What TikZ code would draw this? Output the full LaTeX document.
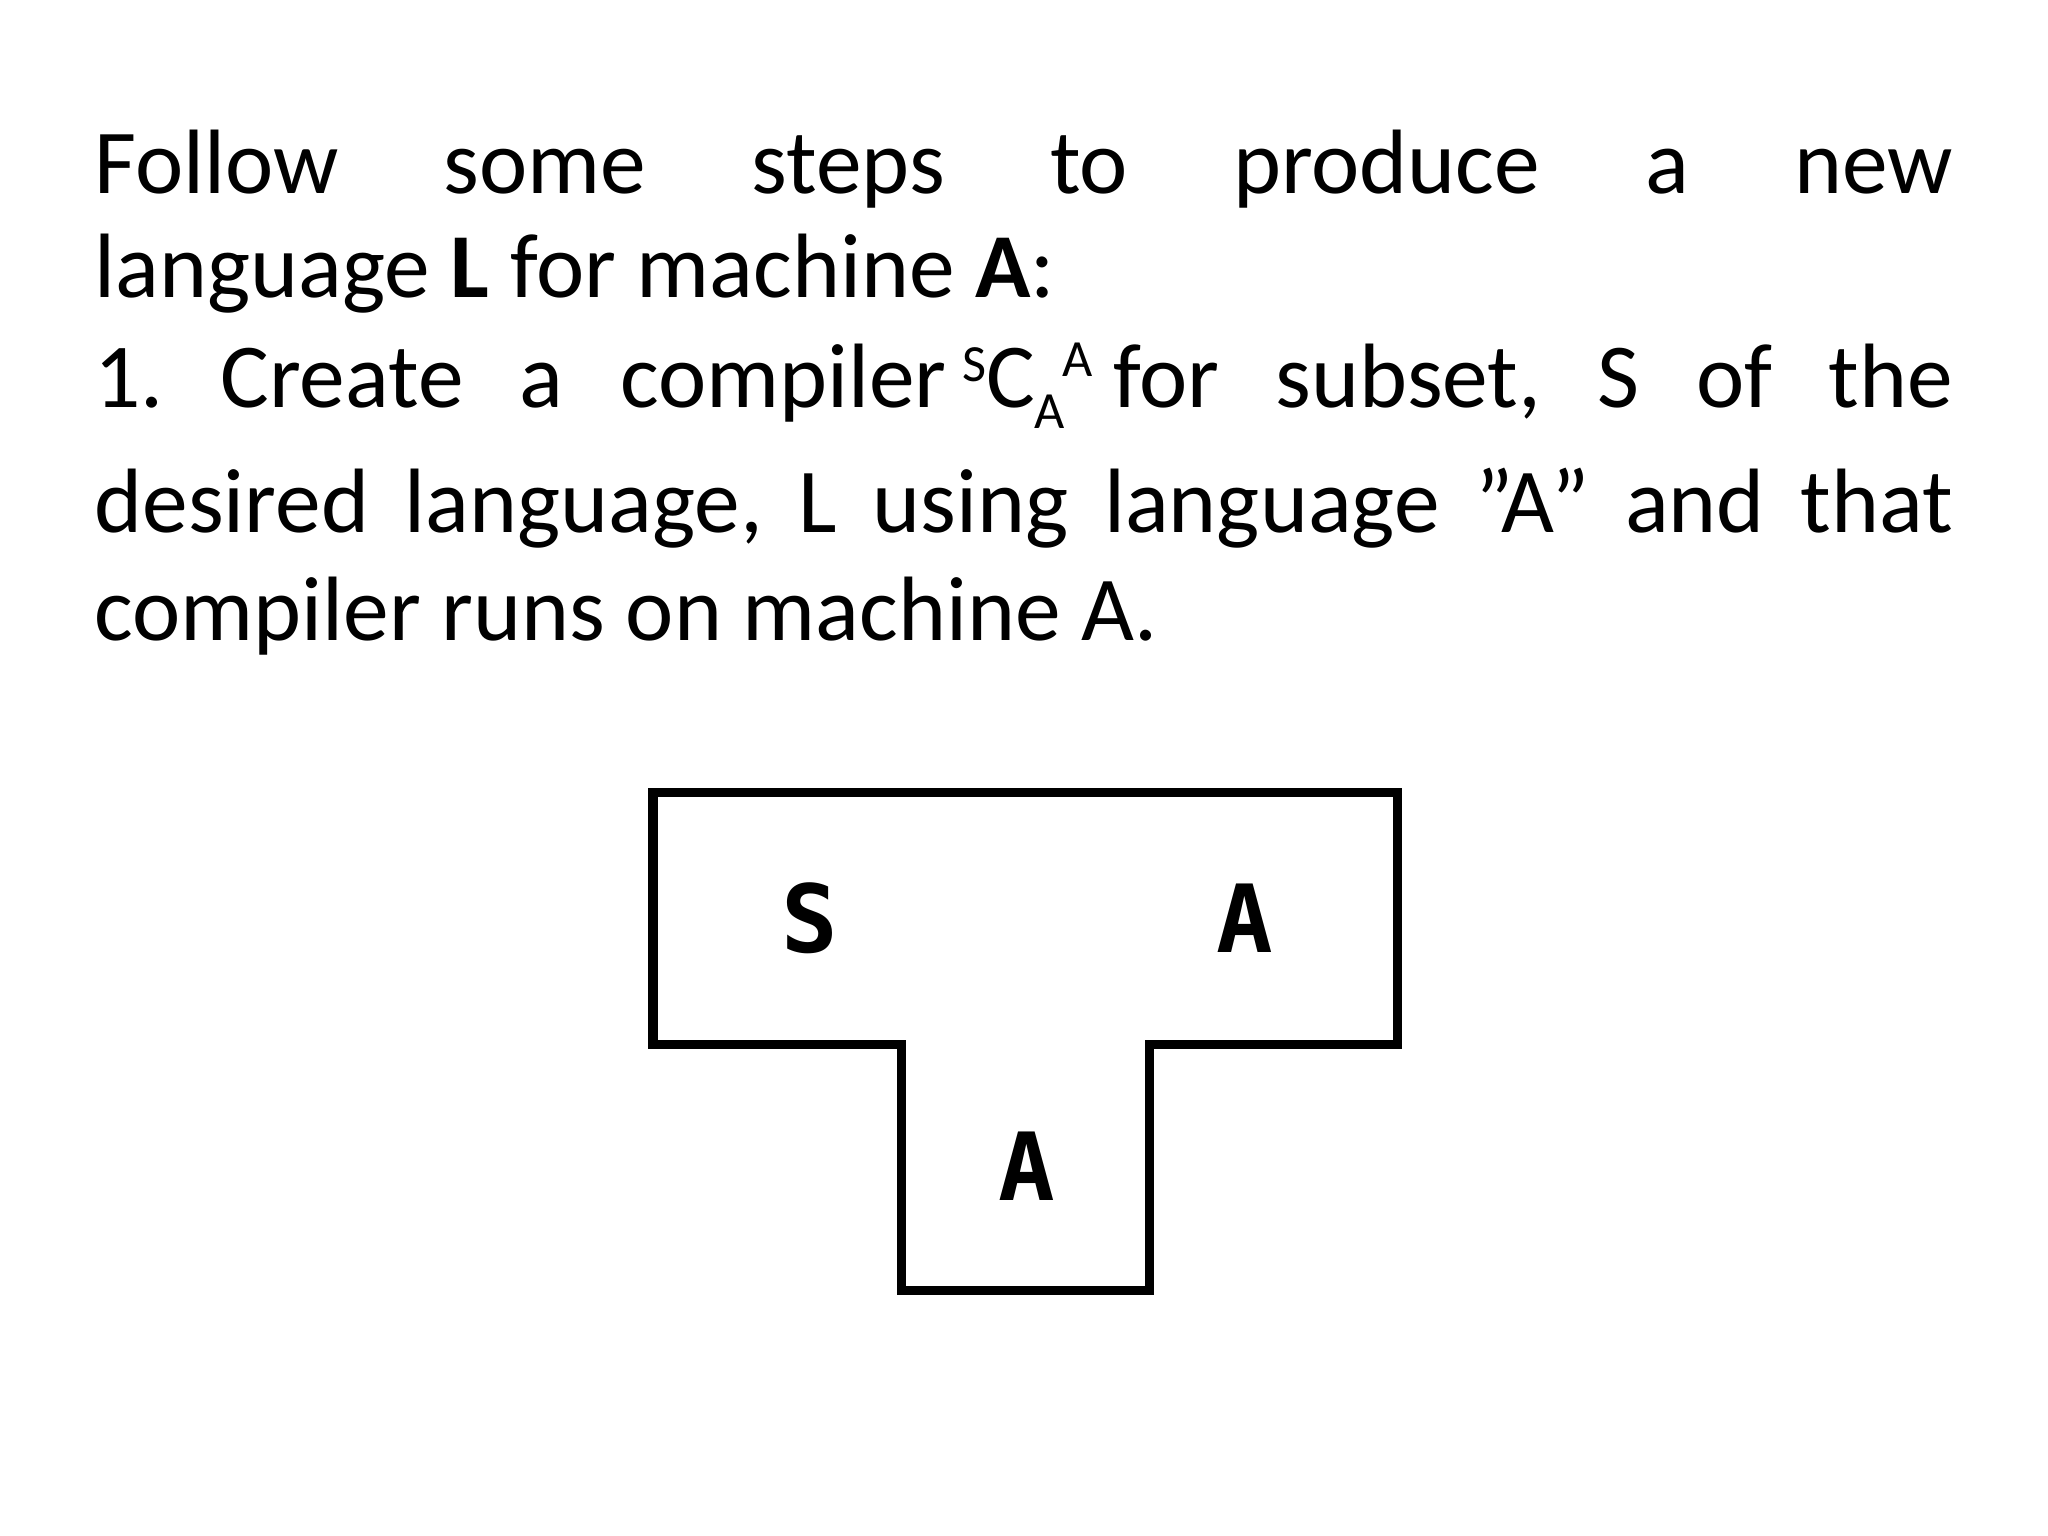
\documentclass[tikz,border=0pt]{standalone}
\usepackage{fontspec}
\setmainfont{Carlito}
\newfontfamily\pixfont{DejaVu Sans Mono}
\begin{document}
\begin{tikzpicture}[x=0.5pt,y=-0.5pt,
  txt/.style={anchor=base west,inner sep=0pt,font=\fontsize{35}{42}\selectfont},
  lbl/.style={inner sep=0pt,font=\pixfont\bfseries\fontsize{36}{40}\selectfont}]
\useasboundingbox (0,0) rectangle (1568,1176);
\def\W{711.5pt}
\node[txt] (l1) at (72,148) {\hbox to \W{Follow\hfill some\hfill steps\hfill to\hfill produce\hfill a\hfill new}};
\node[txt] (l2) at (72,228) {language \textbf{L} for machine \textbf{A}:};
\node[txt] (l3) at (72,312) {\hbox to \W{1.\hfill Create\hfill a\hfill compiler\,{\fontsize{20}{22}\selectfont\raisebox{10pt}{S}}C{\fontsize{20}{22}\selectfont\raisebox{-8pt}{A}\kern-1pt\raisebox{12pt}{A}}\ for\hfill subset,\hfill S\hfill of\hfill the}};
\node[txt] (l4) at (72,408) {\hbox to \W{desired\hfill language,\hfill L\hfill using\hfill language\hfill \char"22 A\char"22\hfill and\hfill that}};
\node[txt] (l5) at (72,490) {compiler runs on machine A.};
\draw[line width=3.5pt] (500,607) -- (1070,607) -- (1070,800) -- (880,800) -- (880,988) -- (690,988) -- (690,800) -- (500,800) -- cycle;
\node[lbl] (s) at (620,703) {S};
\node[lbl] (a1) at (953,703) {A};
\node[lbl] (a2) at (786,893) {A};
\end{tikzpicture}
\end{document}
